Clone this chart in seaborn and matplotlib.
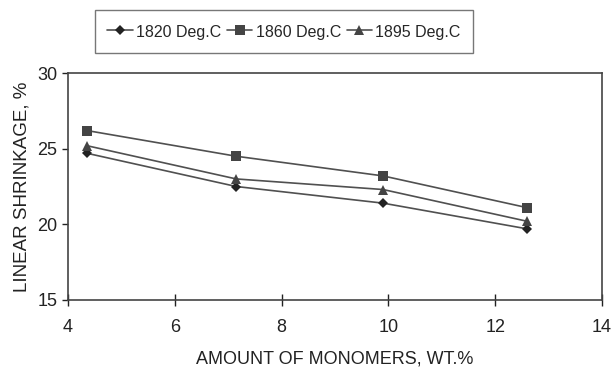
import numpy as np
import matplotlib
matplotlib.use("Agg")
import matplotlib.pyplot as plt
import pandas as pd
import seaborn as sb

monomers = [4.35, 7.15, 9.9, 12.6]
s1820 = [24.7, 22.5, 21.4, 19.7]
s1860 = [26.2, 24.5, 23.2, 21.1]
s1895 = [25.2, 23.0, 22.3, 20.2]
labels = ["1820 Deg.C", "1860 Deg.C", "1895 Deg.C"]

df = pd.DataFrame({"x": monomers * 3,
                   "y": s1820 + s1860 + s1895,
                   "temp": np.repeat(labels, len(monomers))})

sb.set_style("white")
plt.rcParams['font.family'] = ['Liberation Sans', 'DejaVu Sans']

fig = plt.figure(figsize=(6.12, 3.68), dpi=100)
ax = fig.add_axes([68 / 612, 68 / 368, 534 / 612, 227 / 368])

sb.lineplot(data=df, x="x", y="y", hue="temp", style="temp",
            markers=["D", "s", "^"], dashes=False, ax=ax,
            palette=["#505050"] * 3, linewidth=1.2, markersize=7,
            markeredgewidth=0, legend=False)
for line, mk, ms in zip(ax.lines, ["D", "s", "^"], [5, 7.5, 7]):
    line.set_markerfacecolor("#222222" if mk == "D" else "#444444")
    line.set_markersize(ms)

ax.set_xlim(4, 14)
ax.set_ylim(15, 30)
ax.set_xticks([4, 6, 8, 10, 12, 14])
ax.set_yticks([15, 20, 25, 30])
ax.tick_params(axis="x", direction="inout", length=8, width=1, labelsize=13, pad=10, colors="#222222")
ax.tick_params(axis="y", direction="out", length=4, width=1, labelsize=13, colors="#222222")
ax.tick_params(bottom=True, left=True)
for sp in ax.spines.values():
    sp.set_color("#444444")
    sp.set_linewidth(1.2)

ax.set_xlabel("AMOUNT OF MONOMERS, WT.%", fontsize=13, labelpad=10, color="#222222")
ax.set_ylabel("LINEAR SHRINKAGE, %", fontsize=13.5, labelpad=5, color="#222222")

handles = ax.lines[:3]
fig.legend(handles, labels, loc="center", bbox_to_anchor=(284 / 612, 1 - 31.5 / 368),
           ncol=3, frameon=True, fancybox=False, edgecolor="#555555",
           fontsize=11.5, handlelength=1.6, columnspacing=0.35, handletextpad=0.2,
           borderpad=0.8, handleheight=1.3)

fig.savefig("out.png", dpi=100)
